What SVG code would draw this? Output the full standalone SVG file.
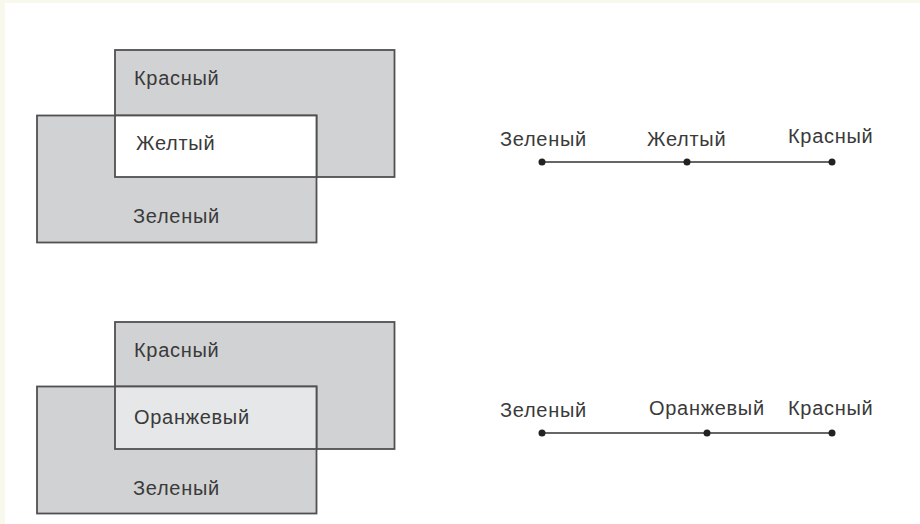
<svg xmlns="http://www.w3.org/2000/svg" width="920" height="524" viewBox="0 0 920 524">
<style>
.bg{fill:#f8f9ec}
.box{stroke:#505050;stroke-width:1.8}
.gray{fill:#d1d2d4}
.white{fill:#ffffff}
.light{fill:#e6e7e8}
.lbl{font-family:"Liberation Sans",Arial,sans-serif;font-size:20px;letter-spacing:0.7px;fill:#3a3a3a}
.conn{stroke:#333;stroke-width:1.6;fill:none}
.dot{fill:#222}
</style>
<rect class="bg" x="0" y="0" width="920" height="524"/>
<rect fill="#ffffff" x="5" y="3" width="915" height="521"/>

<g id="top-red"><rect class="box gray" x="115" y="50" width="279.5" height="127"/><text class="lbl" x="134" y="85">Красный</text></g>
<g id="top-green"><rect class="box gray" x="37" y="115.5" width="279.5" height="127"/><text class="lbl" x="133" y="223">Зеленый</text></g>
<g id="top-yellow"><rect class="box white" x="115" y="115.5" width="201.5" height="61.5"/><text class="lbl" x="136" y="150">Желтый</text></g>

<g id="bot-red"><rect class="box gray" x="115" y="322" width="279.5" height="127"/><text class="lbl" x="134" y="357">Красный</text></g>
<g id="bot-green"><rect class="box gray" x="37" y="386.5" width="279.5" height="127"/><text class="lbl" x="133" y="495">Зеленый</text></g>
<g id="bot-orange"><rect class="box light" x="115" y="386.5" width="201.5" height="62.5"/><text class="lbl" x="134" y="424">Оранжевый</text></g>

<g id="connectors">
<line class="conn" x1="542" y1="162" x2="832" y2="162"/>
<line class="conn" x1="542" y1="433" x2="832" y2="433"/>
</g>

<g id="t-green"><circle class="dot" cx="542" cy="162" r="3.5"/><text class="lbl" x="500" y="146">Зеленый</text></g>
<g id="t-yellow"><circle class="dot" cx="687" cy="162" r="3.5"/><text class="lbl" x="647" y="146">Желтый</text></g>
<g id="t-red"><circle class="dot" cx="832" cy="162" r="3.5"/><text class="lbl" x="788" y="143">Красный</text></g>

<g id="b-green"><circle class="dot" cx="542" cy="433" r="3.5"/><text class="lbl" x="500" y="417">Зеленый</text></g>
<g id="b-orange"><circle class="dot" cx="707" cy="433" r="3.5"/><text class="lbl" x="649" y="415">Оранжевый</text></g>
<g id="b-red"><circle class="dot" cx="832" cy="433" r="3.5"/><text class="lbl" x="788" y="415">Красный</text></g>
</svg>
